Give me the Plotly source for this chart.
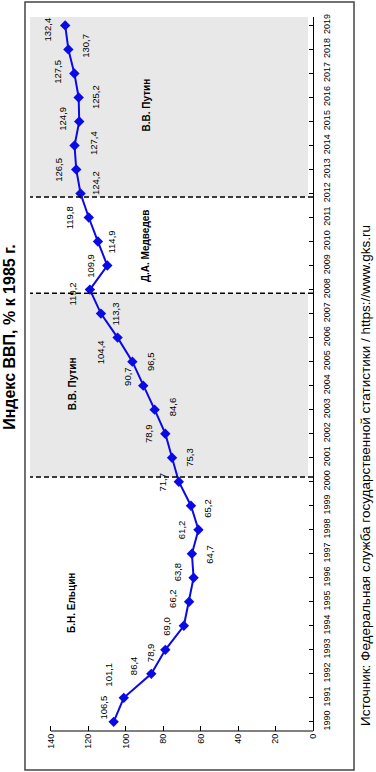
import plotly.graph_objects as go

# ---- data ----
years = list(range(1990, 2020))
gdp_index = [106.5, 101.1, 86.4, 78.9, 69.0, 66.2, 63.8, 64.7, 61.2, 65.2,
             71.7, 75.3, 78.9, 84.6, 90.7, 96.5, 104.4, 113.3, 119.2, 109.9,
             114.9, 119.8, 124.2, 126.5, 127.4, 124.9, 125.2, 127.5, 130.7, 132.4]
value_ticks = [0, 20, 40, 60, 80, 100, 120, 140]
term_bounds = [2000.2, 2007.85, 2011.85]
leaders = ["Б.Н. Ельцин", "В.В. Путин", "Д.А. Медведев", "В.В. Путин"]
title_text = "Индекс ВВП, % к 1985 г."
source_text = "Источник: Федеральная служба государственной статистики / https://www.gks.ru"

# ---- styling / placement (pixels) ----
label_dx = [-10, -15, -17, -14, -17, -16, -16, 18, -17, 17,
            -16, 18, -17, 18, -16, 18, -17, 15, -17, -17,
            14, -19, 15, -18, 19, -17, 17, -17, 17, -18]
label_dy = [-14, -23, -8, 3, 0, -3, -6, 0, 0, 2,
            0, 0, 0, -3, -9, 0, 15, 0, 4, 0,
            0, 0, -10, 0, -2, -3, 0, -2, -4, 4]
leader_pos = [(128.8, 1994.95), (128.8, 2004.1), (89.8, 2009.85), (88.8, 2015.7)]

XMAX = 151.2
YMIN, YMAX = 1989.62, 2019.35
SANS = "Liberation Sans, Arial, sans-serif"

fig = go.Figure()
fig.add_trace(go.Scatter(
    x=gdp_index, y=years, mode="lines+markers",
    line=dict(color="#0a0ae6", width=2),
    marker=dict(symbol="diamond", size=8, color="#0a0ae6"),
    hoverinfo="skip", showlegend=False,
))

shapes = []
shapes.append(dict(type="rect", xref="x", yref="y", x0=2.7, x1=XMAX,
                   y0=term_bounds[0], y1=term_bounds[1],
                   fillcolor="#e8e8e8", line=dict(width=0), layer="below"))
shapes.append(dict(type="rect", xref="x", yref="y", x0=2.7, x1=XMAX,
                   y0=term_bounds[2], y1=YMAX,
                   fillcolor="#e8e8e8", line=dict(width=0), layer="below"))
for b in term_bounds:
    shapes.append(dict(type="line", xref="x", yref="y", x0=0, x1=XMAX, y0=b, y1=b,
                       line=dict(color="black", width=1.5, dash="5px,3px"), layer="above"))
shapes.append(dict(type="line", xref="x", yref="paper", x0=0, x1=140, y0=0, y1=0,
                   line=dict(color="black", width=1)))
shapes.append(dict(type="rect", xref="paper", yref="paper",
                   x0=-0.0177, x1=1.1449, y0=-0.0546, y1=1.021,
                   line=dict(color="#444", width=1.5), fillcolor="rgba(0,0,0,0)"))

annotations = []
for v, yr, dx, dy in zip(gdp_index, years, label_dx, label_dy):
    annotations.append(dict(
        x=v, y=yr, xref="x", yref="y", text=f"{v:.1f}".replace(".", ","),
        showarrow=False, textangle=-90, xanchor="center", yanchor="middle",
        xshift=dx, yshift=-dy,
        font=dict(family=SANS, size=9.5, color="black")))
for name, (px, py) in zip(leaders, leader_pos):
    annotations.append(dict(
        x=px, y=py, xref="x", yref="y", text=f"<b>{name}</b>", showarrow=False,
        textangle=-90, xanchor="center", yanchor="middle",
        font=dict(family=SANS, size=10, color="black")))
annotations.append(dict(
    x=-0.0707, y=0.552, xref="paper", yref="paper", text=f"<b>{title_text}</b>",
    showarrow=False, textangle=-90, xanchor="center", yanchor="middle",
    font=dict(family=SANS, size=16, color="black")))
annotations.append(dict(
    x=1.1837, y=0.3585, xref="paper", yref="paper", text=source_text,
    showarrow=False, textangle=-90, xanchor="center", yanchor="middle",
    font=dict(family=SANS, size=13.5, color="black")))

fig.update_layout(
    width=376, height=772,
    margin=dict(l=30, r=63, t=17, b=41, pad=0, autoexpand=False),
    paper_bgcolor="white", plot_bgcolor="white",
    shapes=shapes, annotations=annotations,
    xaxis=dict(range=[XMAX, 0], tickmode="array", tickvals=value_ticks,
               ticktext=[str(t) for t in value_ticks], tickangle=-90,
               ticks="inside", ticklen=5, tickcolor="black", automargin=False,
               showline=False, showgrid=False, zeroline=False,
               tickfont=dict(family=SANS, size=9, color="black")),
    yaxis=dict(range=[YMIN, YMAX], side="right", tickmode="array",
               tickvals=years, ticktext=[str(y) for y in years], tickangle=-90,
               ticks="inside", ticklen=4, tickcolor="black", automargin=False,
               showline=True, linecolor="black", linewidth=1,
               showgrid=False, zeroline=False, ticklabelstandoff=5,
               tickfont=dict(family=SANS, size=9, color="black")),
)

fig.write_html("out.html",
               config={"displayModeBar": False, "staticPlot": True},
               post_script="document.body.style.margin='0px';document.body.style.overflow='hidden';")
